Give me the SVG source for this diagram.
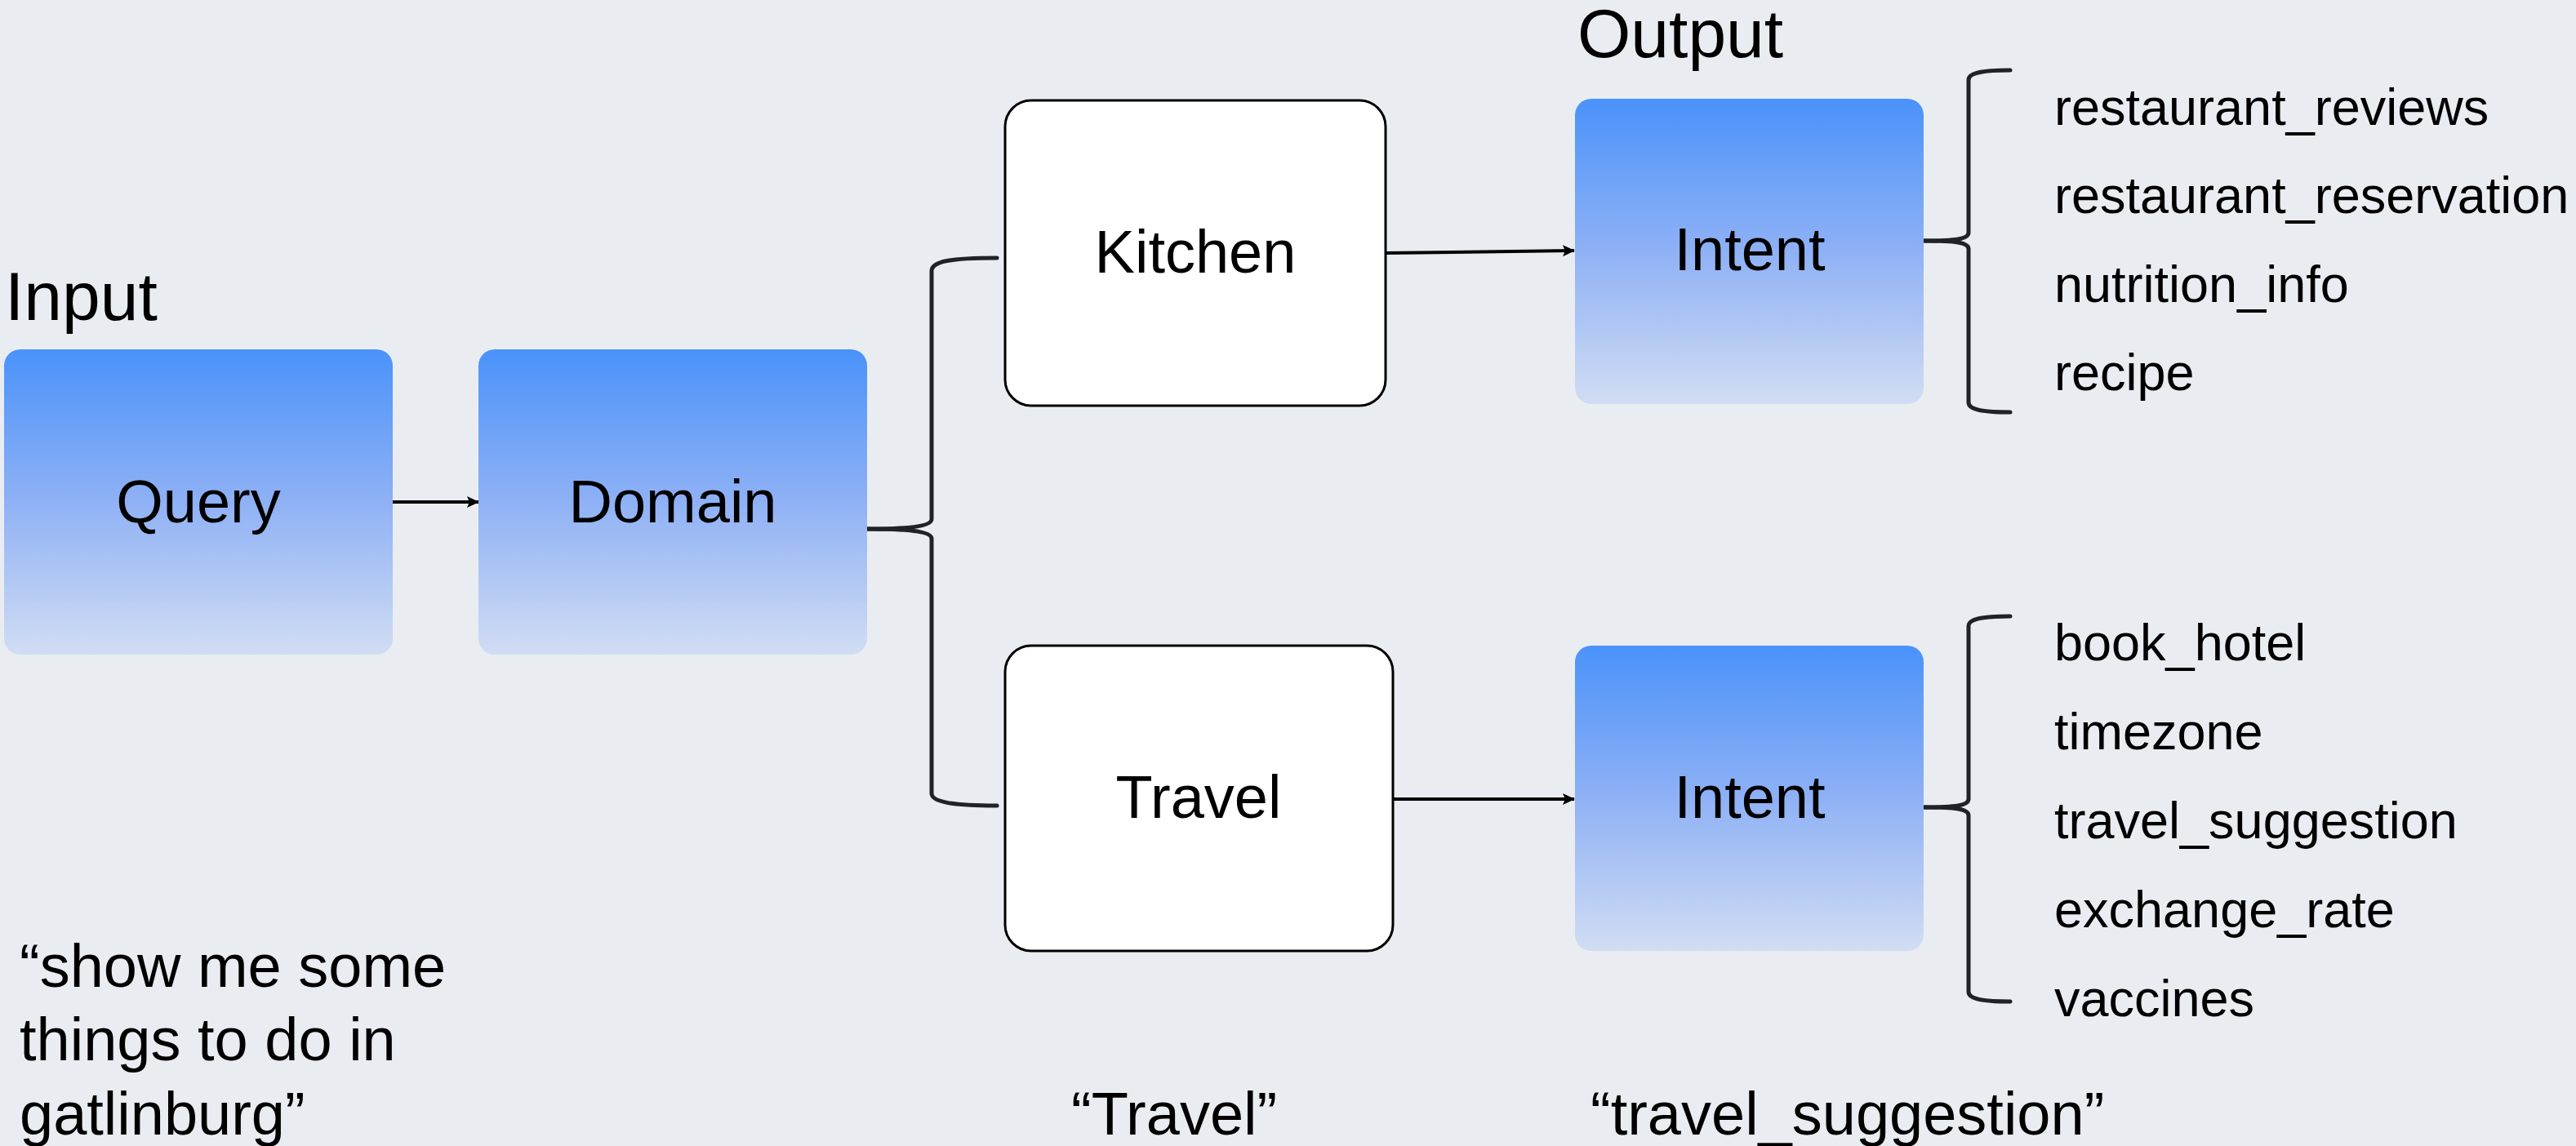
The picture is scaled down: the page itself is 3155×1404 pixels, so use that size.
<svg xmlns="http://www.w3.org/2000/svg" width="3155" height="1404" viewBox="0 0 3155 1404">
<style>
text{font-family:"Liberation Sans",Arial,sans-serif;fill:#000}
.big{font-size:84px}
.lbl{font-size:74px;text-anchor:middle}
.item{font-size:63px}
.note{font-size:74px}
.blue{fill:url(#g)}
.white{fill:#fff;stroke:#000;stroke-width:3}
.arr{fill:none;stroke:#000;stroke-width:4;marker-end:url(#ah)}
.brace{fill:none;stroke:#1f2226;stroke-width:5;stroke-linecap:round}
</style>
<defs>
<linearGradient id="g" x1="0" y1="0" x2="0" y2="1">
<stop offset="0" stop-color="#4a92fa"/>
<stop offset="0.5" stop-color="#8fb1f5"/>
<stop offset="1" stop-color="#d1ddf3"/>
</linearGradient>
<marker id="ah" markerWidth="16" markerHeight="16" refX="14" refY="8" markerUnits="userSpaceOnUse" orient="auto">
<path d="M0,1 L15,8 L0,15 L3,8 Z" fill="#000"/>
</marker>
</defs>
<rect width="3155" height="1404" fill="#e9edf1"/>
<text class="big" x="6" y="392">Input</text>
<text class="big" x="1932" y="70">Output</text>
<g id="connectors">
<line class="arr" x1="481" y1="615" x2="586" y2="615"/>
<line class="arr" x1="1697" y1="310" x2="1928" y2="307"/>
<line class="arr" x1="1706" y1="979" x2="1928" y2="979"/>
<path class="brace" d="M1061,648 C1105,648 1141,646 1141,636 L1141,332 C1141,320 1165,316 1221,316"/>
<path class="brace" d="M1061,648 C1105,648 1141,650 1141,660 L1141,972 C1141,982 1165,987 1221,987"/>
<path class="brace" d="M2357,295 C2395,295 2411,293 2411,285 L2411,98 C2411,90 2425,86 2462,86"/>
<path class="brace" d="M2357,295 C2395,295 2411,297 2411,305 L2411,493 C2411,501 2425,505 2462,505"/>
<path class="brace" d="M2357,989 C2395,989 2411,987 2411,979 L2411,767 C2411,759 2425,755 2462,755"/>
<path class="brace" d="M2357,989 C2395,989 2411,991 2411,999 L2411,1215 C2411,1223 2425,1227 2462,1227"/>
</g>
<g id="query"><rect class="blue" x="5" y="428" width="476" height="374" rx="20"/><text class="lbl" x="243" y="640">Query</text></g>
<g id="domain"><rect class="blue" x="586" y="428" width="476" height="374" rx="20"/><text class="lbl" x="824" y="640">Domain</text></g>
<g id="kitchen"><rect class="white" x="1231" y="123" width="466" height="374" rx="32"/><text class="lbl" x="1464" y="334">Kitchen</text></g>
<g id="travel"><rect class="white" x="1231" y="791" width="475" height="374" rx="32"/><text class="lbl" x="1468" y="1002">Travel</text></g>
<g id="intent-kitchen"><rect class="blue" x="1929" y="121" width="427" height="374" rx="20"/><text class="lbl" x="2143" y="331">Intent</text></g>
<g id="intent-travel"><rect class="blue" x="1929" y="791" width="427" height="374" rx="20"/><text class="lbl" x="2143" y="1002">Intent</text></g>
<g id="kitchen-intents">
<text class="item" x="2516" y="153">restaurant_reviews</text>
<text class="item" x="2516" y="261">restaurant_reservation</text>
<text class="item" x="2516" y="370">nutrition_info</text>
<text class="item" x="2516" y="478">recipe</text>
</g>
<g id="travel-intents">
<text class="item" x="2516" y="809">book_hotel</text>
<text class="item" x="2516" y="918">timezone</text>
<text class="item" x="2516" y="1027">travel_suggestion</text>
<text class="item" x="2516" y="1136">exchange_rate</text>
<text class="item" x="2516" y="1245">vaccines</text>
</g>
<g id="examples">
<text class="note" x="24" y="1209">“show me some</text>
<text class="note" x="24" y="1299">things to do in</text>
<text class="note" x="24" y="1390">gatlinburg”</text>
<text class="note" x="1312" y="1390">“Travel”</text>
<text class="note" x="1948" y="1390">“travel_suggestion”</text>
</g>
</svg>
